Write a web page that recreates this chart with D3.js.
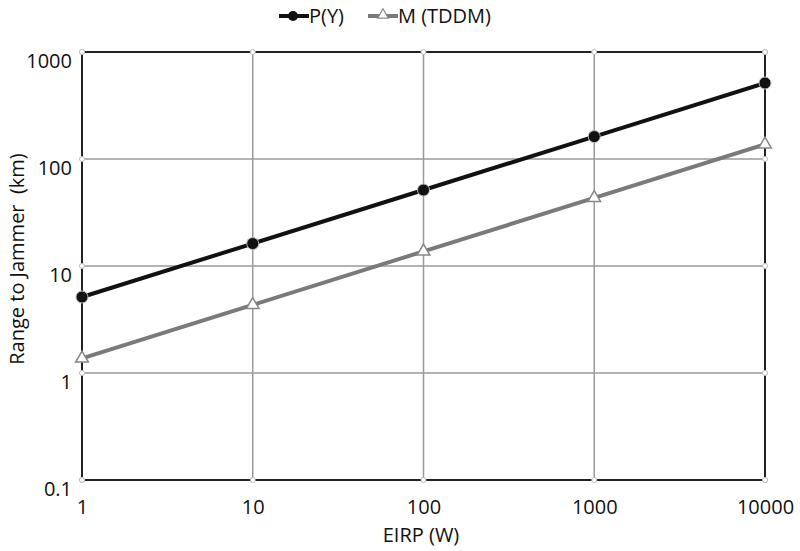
<!DOCTYPE html>
<html><head><meta charset="utf-8">
<script src="https://cdn.jsdelivr.net/npm/d3@7"></script>
<style>body{margin:0;background:#fff}svg{display:block}text{font-family:"Open Sans","DejaVu Sans",sans-serif;fill:#111}</style>
</head><body><svg id="c" width="800" height="551"></svg>
<script>
const eirp = [1, 10, 100, 1000, 10000];
const pY = [5.13, 16.2, 51.3, 162, 513];
const mTDDM = [1.37, 4.33, 13.7, 43.3, 137];
const xTicks = [1, 10, 100, 1000, 10000];
const yTicks = [0.1, 1, 10, 100, 1000];
const seriesNames = ["P(Y)", "M (TDDM)"];

const FS = 20;
const svg = d3.select("#c");
const L = 82, R = 765, T = 52, B = 480;
const x = d3.scaleLog().domain([1, 10000]).range([L, R]);
const y = d3.scaleLog().domain([0.1, 1000]).range([B, T]);

// grid
svg.append("g").selectAll("line").data(xTicks.slice(1, -1)).join("line")
  .attr("x1", d => x(d)).attr("x2", d => x(d)).attr("y1", T).attr("y2", B)
  .attr("stroke", "#9a9a9a").attr("stroke-width", 1.5);
svg.append("g").selectAll("line").data(yTicks.slice(1, -1)).join("line")
  .attr("y1", d => y(d)).attr("y2", d => y(d)).attr("x1", L).attr("x2", R)
  .attr("stroke", "#9a9a9a").attr("stroke-width", 1.5);
// frame
svg.append("rect").attr("x", L).attr("y", T).attr("width", R - L).attr("height", B - T)
  .attr("fill", "none").attr("stroke", "#222").attr("stroke-width", 2);

const fmt = d => d3.format("~g")(d);
const ax = svg.append("g").attr("transform", `translate(0,${B})`)
  .call(d3.axisBottom(x).tickValues(xTicks).tickFormat(fmt).tickSize(0));
ax.selectAll(".tick text").attr("y", 34).attr("dy", null);
const ay = svg.append("g").attr("transform", `translate(${L},0)`)
  .call(d3.axisLeft(y).tickValues(yTicks).tickFormat(fmt).tickSize(0));
ay.selectAll(".tick text").attr("x", -10).attr("dy", null).attr("y", 15);
[ax, ay].forEach(g => { g.select(".domain").remove(); g.selectAll("text").attr("font-size", FS).attr("fill", "#111").style("font-family", '"Open Sans","DejaVu Sans",sans-serif'); });

// small tick markers at grid ends
const markers = [];
xTicks.forEach(d => { markers.push([x(d), T]); markers.push([x(d), B]); });
yTicks.forEach(d => { markers.push([L, y(d)]); markers.push([R, y(d)]); });
svg.append("g").selectAll("circle").data(markers).join("circle")
  .attr("cx", d => d[0]).attr("cy", d => d[1]).attr("r", 2.5)
  .attr("fill", "#fff").attr("stroke", "#bbb").attr("stroke-width", 1);

const line = d3.line().x(d => x(d[0])).y(d => y(d[1]));
const dP = eirp.map((e, i) => [e, pY[i]]);
const dM = eirp.map((e, i) => [e, mTDDM[i]]);
svg.append("path").datum(dM).attr("d", line).attr("fill", "none").attr("stroke", "#7a7a7a").attr("stroke-width", 4);
svg.append("path").datum(dP).attr("d", line).attr("fill", "none").attr("stroke", "#111").attr("stroke-width", 4);
svg.append("g").selectAll("circle").data(dP).join("circle")
  .attr("cx", d => x(d[0])).attr("cy", d => y(d[1])).attr("r", 6)
  .attr("fill", "#111").attr("stroke", "#bbb").attr("stroke-width", 1);
const tri = d3.symbol().type(d3.symbolTriangle).size(70);
svg.append("g").selectAll("path").data(dM).join("path")
  .attr("transform", d => `translate(${x(d[0])},${y(d[1])})`).attr("d", tri)
  .attr("fill", "#fff").attr("stroke", "#888").attr("stroke-width", 1.5);

// axis titles
svg.append("text").attr("x", 421).attr("y", 542).attr("text-anchor", "middle").attr("font-size", FS).text("EIRP (W)");
svg.append("text").attr("transform", `translate(24,259) rotate(-90)`).attr("text-anchor", "middle").attr("font-size", FS).style("white-space", "pre").text("Range to Jammer  (km)");

// legend
const lg = svg.append("g");
lg.append("line").attr("x1", 279).attr("x2", 309).attr("y1", 16).attr("y2", 16).attr("stroke", "#111").attr("stroke-width", 4);
lg.append("circle").attr("cx", 293).attr("cy", 16).attr("r", 5).attr("fill", "#111");
lg.append("text").attr("x", 309).attr("y", 23).attr("font-size", FS).text(seriesNames[0]);
lg.append("line").attr("x1", 368).attr("x2", 398).attr("y1", 16).attr("y2", 16).attr("stroke", "#7a7a7a").attr("stroke-width", 4);
lg.append("path").attr("transform", "translate(383,15)").attr("d", d3.symbol().type(d3.symbolTriangle).size(50)).attr("fill", "#fff").attr("stroke", "#888").attr("stroke-width", 1.2);
lg.append("text").attr("x", 398).attr("y", 23).attr("font-size", FS).text(seriesNames[1]);
</script></body></html>
